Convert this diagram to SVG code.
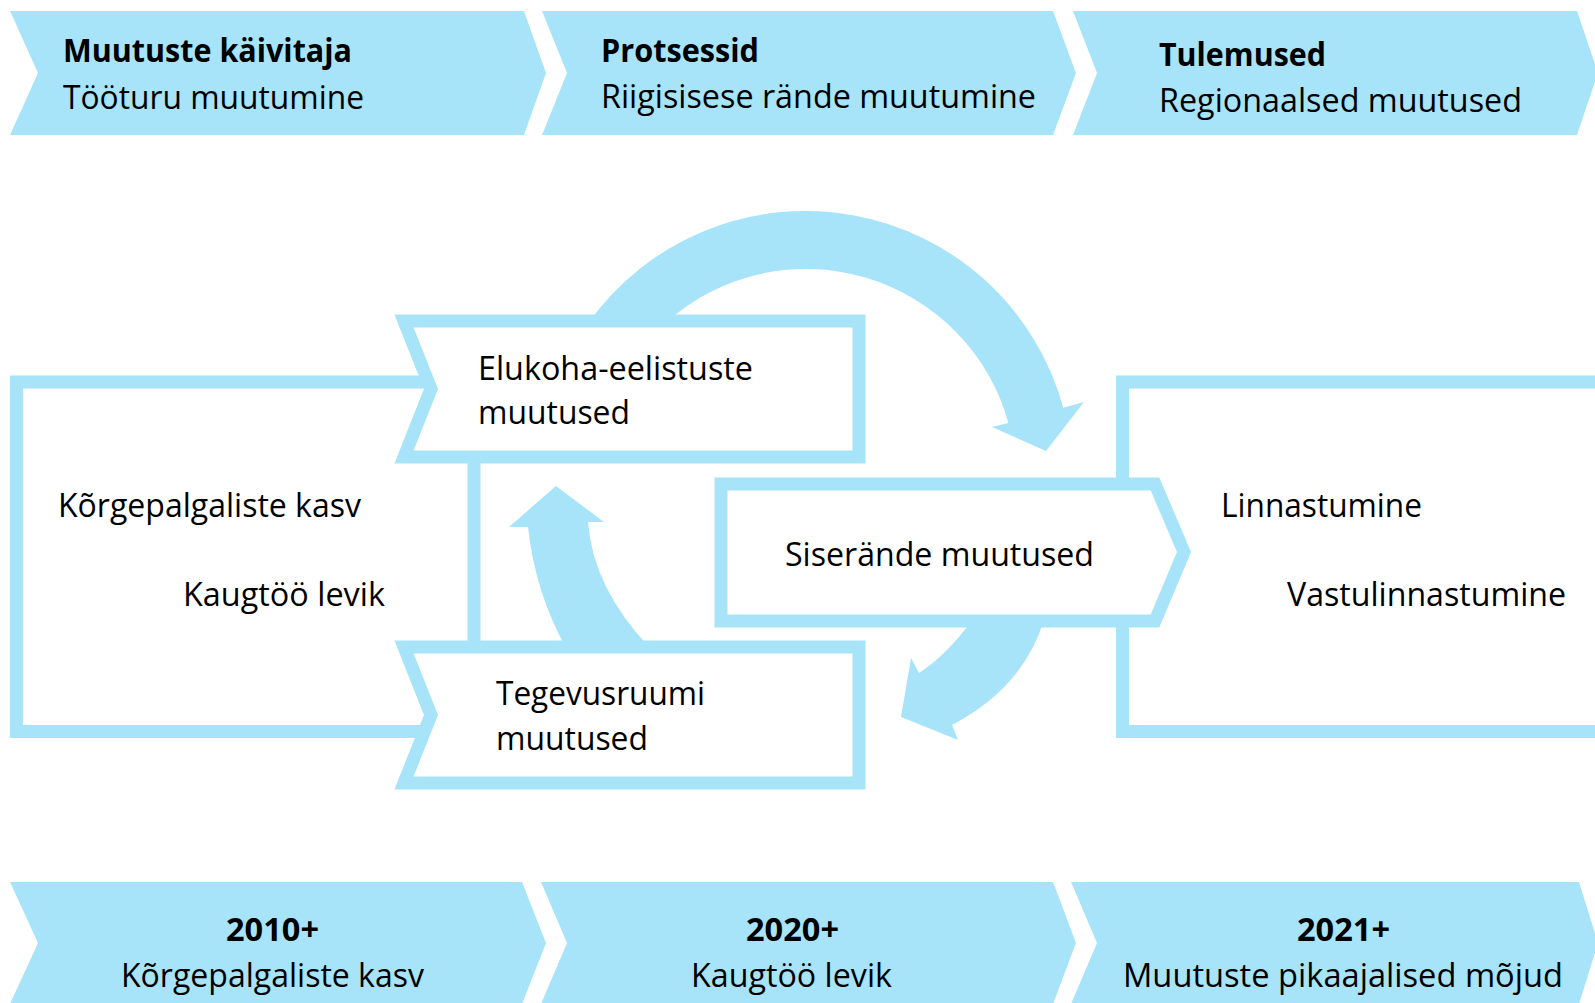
<svg xmlns="http://www.w3.org/2000/svg" width="1595" height="1003" viewBox="0 0 1595 1003">
<style>
.chev{fill:#a7e4fa}
.frame{fill:#ffffff;stroke:#a7e4fa;stroke-width:13;stroke-linejoin:miter}
.arrow{fill:#a7e4fa}
text{font-family:'Open Sans','Noto Sans','Liberation Sans',sans-serif;font-size:33px;fill:#000000}
.b{font-weight:bold}
</style>
<rect width="1595" height="1003" fill="#ffffff"/>
<g id="top-chevron-1"><polygon class="chev" points="10,11 524,11 546,73 524,135 10,135 38,73"/>
<text class="b" x="63" y="62" textLength="289" lengthAdjust="spacingAndGlyphs">Muutuste käivitaja</text>
<text x="63" y="109" textLength="301" lengthAdjust="spacingAndGlyphs">Tööturu muutumine</text></g>
<g id="top-chevron-2"><polygon class="chev" points="542,11 1053,11 1076,73 1053,135 542,135 567,73"/>
<text class="b" x="601" y="62" textLength="158" lengthAdjust="spacingAndGlyphs">Protsessid</text>
<text x="601" y="108" textLength="435" lengthAdjust="spacingAndGlyphs">Riigisisese rände muutumine</text></g>
<g id="top-chevron-3"><polygon class="chev" points="1073,11 1577,11 1598,73 1577,135 1073,135 1097,73"/>
<text class="b" x="1159" y="66" textLength="167" lengthAdjust="spacingAndGlyphs">Tulemused</text>
<text x="1159" y="112" textLength="363" lengthAdjust="spacingAndGlyphs">Regionaalsed muutused</text></g>

<g id="left-frame"><rect class="frame" x="16.5" y="382" width="457.5" height="349.5"/>
<text x="58" y="517" textLength="303" lengthAdjust="spacingAndGlyphs">Kõrgepalgaliste kasv</text>
<text x="183" y="606" textLength="202" lengthAdjust="spacingAndGlyphs">Kaugtöö levik</text></g>
<g id="right-frame"><rect class="frame" x="1122.5" y="382" width="480" height="349.5"/>
<text x="1221" y="517" textLength="201" lengthAdjust="spacingAndGlyphs">Linnastumine</text>
<text x="1287" y="606" textLength="279" lengthAdjust="spacingAndGlyphs">Vastulinnastumine</text></g>

<g id="connectors">
<path class="arrow" d="M589,322 A267,267 0 0 1 1063.3,407.7 L1084,402 L1046,451 L992,427 L1008.4,422.9 A210,210 0 0 0 666.5,322 Z"/>
<path class="arrow" d="M972,620 Q948,654 919,673 L911,658 L901,717 L958,740 L952,725 Q1023,688 1044,620 Z"/>
<path class="arrow" d="M566,648 Q535,592 528,527 L509,527 L556,486 L604,522 L588,522 Q593,588 650,648 Z"/>
</g>

<g id="elukoha"><path class="frame" stroke-width="12" d="M404,321 L859,321 L859,457 L404,457 L431,389 Z"/>
<text x="478" y="380" textLength="275" lengthAdjust="spacingAndGlyphs">Elukoha-eelistuste</text>
<text x="478" y="424" textLength="152" lengthAdjust="spacingAndGlyphs">muutused</text></g>
<g id="tegevusruumi"><path class="frame" stroke-width="12" d="M404,647 L859,647 L859,783 L404,783 L431,715 Z"/>
<text x="496" y="705" textLength="209" lengthAdjust="spacingAndGlyphs">Tegevusruumi</text>
<text x="496" y="750" textLength="152" lengthAdjust="spacingAndGlyphs">muutused</text></g>
<g id="siserande"><path class="frame" stroke-width="12.5" d="M721,484 L1155,484 L1184,552 L1155,621 L721,621 Z"/>
<text x="785" y="566" textLength="309" lengthAdjust="spacingAndGlyphs">Siserände muutused</text></g>

<g id="bottom-chevron-1"><polygon class="chev" points="10,882 522,882 546,943 522,1004 10,1004 38,943"/>
<text class="b" x="226" y="941" textLength="93" lengthAdjust="spacingAndGlyphs">2010+</text>
<text x="121" y="987" textLength="303" lengthAdjust="spacingAndGlyphs">Kõrgepalgaliste kasv</text></g>
<g id="bottom-chevron-2"><polygon class="chev" points="541,882 1053,882 1076,943 1053,1004 541,1004 567,943"/>
<text class="b" x="746" y="941" textLength="93" lengthAdjust="spacingAndGlyphs">2020+</text>
<text x="691" y="987" textLength="201" lengthAdjust="spacingAndGlyphs">Kaugtöö levik</text></g>
<g id="bottom-chevron-3"><polygon class="chev" points="1071,882 1579,882 1598,943 1579,1004 1071,1004 1097,943"/>
<text class="b" x="1297" y="941" textLength="93" lengthAdjust="spacingAndGlyphs">2021+</text>
<text x="1123" y="987" textLength="440" lengthAdjust="spacingAndGlyphs">Muutuste pikaajalised mõjud</text></g>
</svg>
